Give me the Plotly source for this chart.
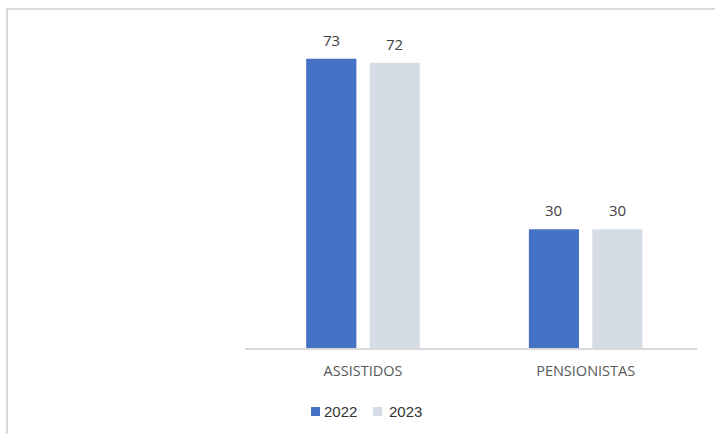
import plotly.graph_objects as go

categories = ["ASSISTIDOS", "PENSIONISTAS"]
series_names = ["2022", "2023"]
values_2022 = [73, 30]
values_2023 = [72, 30]
colors = ["#4472C4", "#D6DCE5"]

W, H = 715, 434
ML, MR, MT, MB = 245, 18, 31, 86
plot_w = W - ML - MR
plot_h = H - MT - MB
x_range = [-0.53, 1.5]
y_range = [0, 80]
bargap = 0.43
bargroupgap = 0.21

fig = go.Figure()
for name, vals, col in zip(series_names, [values_2022, values_2023], colors):
    fig.add_trace(go.Bar(x=categories, y=vals, name=name, marker_color=col,
                         marker_line_width=0, showlegend=False))

# data labels
px_per_unit = plot_w / (x_range[1] - x_range[0])
slot = (1 - bargap) / len(series_names)
for i, vals in enumerate([values_2022, values_2023]):
    off = (i - (len(series_names) - 1) / 2) * slot * px_per_unit
    for c, v in zip(categories, vals):
        fig.add_annotation(x=c, y=v, text=str(v), showarrow=False,
                           xshift=off, yshift=19, yanchor="middle",
                           font=dict(family="Open Sans, Arial", size=15, color="#404040"))

def px2paper_x(px):
    return (px - ML) / plot_w

def px2paper_y(py):
    return (H - MB - py) / plot_h

line = dict(color="#D9D9D9", width=2)
fig.add_shape(type="line", xref="paper", yref="paper",
              x0=px2paper_x(7), x1=px2paper_x(7), y0=px2paper_y(9), y1=px2paper_y(440), line=line)
fig.add_shape(type="line", xref="paper", yref="paper",
              x0=px2paper_x(6), x1=px2paper_x(720), y0=px2paper_y(9), y1=px2paper_y(9), line=line)

# legend (Excel-style: small square right next to the text)
legend_x0 = 311
legend_step = 62
legend_y = 411
for i, (name, col) in enumerate(zip(series_names, colors)):
    sx = legend_x0 + i * legend_step
    fig.add_shape(type="rect", xref="paper", yref="paper",
                  x0=px2paper_x(sx), x1=px2paper_x(sx + 9),
                  y0=px2paper_y(legend_y + 5), y1=px2paper_y(legend_y - 4),
                  fillcolor=col, line_width=0)
    fig.add_annotation(xref="paper", yref="paper", x=px2paper_x(sx + 11 + i * 3),
                       y=px2paper_y(legend_y), text=name, showarrow=False,
                       xanchor="left", yanchor="middle",
                       font=dict(family="Arial", size=15, color="#333333"))

fig.update_layout(
    width=W, height=H,
    margin=dict(l=ML, r=MR, t=MT, b=MB, autoexpand=False),
    paper_bgcolor="white", plot_bgcolor="white",
    barmode="group", bargap=bargap, bargroupgap=bargroupgap,
    showlegend=False,
    xaxis=dict(range=x_range, showgrid=False, showline=True, linecolor="#D9D9D9",
               linewidth=1.5, ticks="", tickfont=dict(family="Open Sans, Arial", size=14.5, color="#595959"),
               ticklabelstandoff=9),
    yaxis=dict(range=y_range, visible=False, showgrid=False),
    font=dict(family="Open Sans, Arial"),
)

fig.write_html("out.html", config={"displayModeBar": False},
               post_script="document.body.style.margin='0';")
